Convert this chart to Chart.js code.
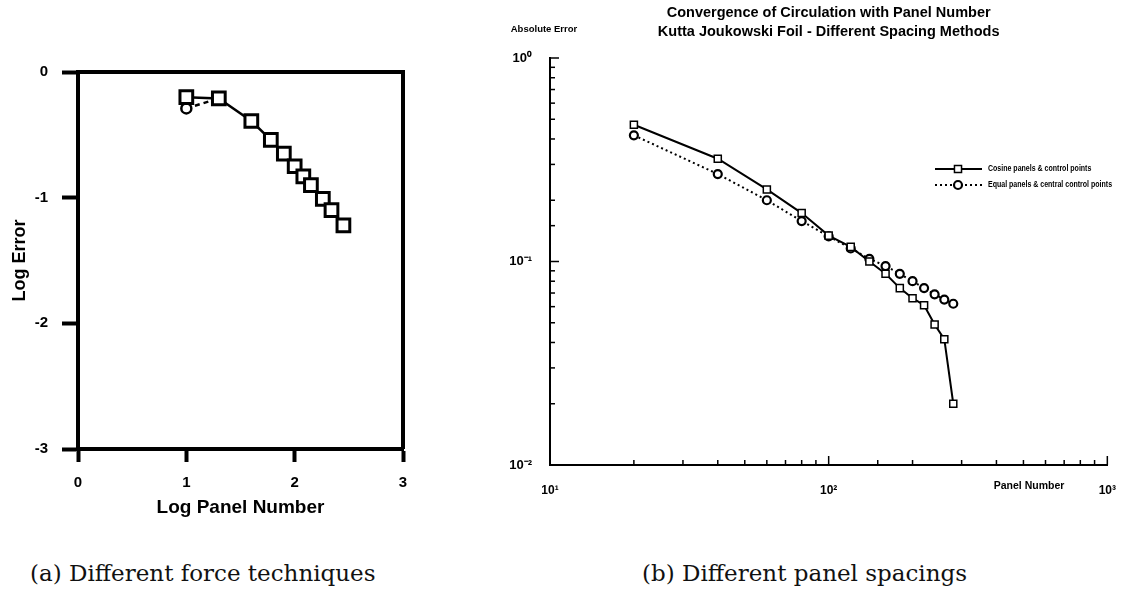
<!DOCTYPE html>
<html>
<head>
<meta charset="utf-8">
<script src="https://cdn.jsdelivr.net/npm/chart.js@4.4.1/dist/chart.umd.min.js"></script>
<style>
    body { margin: 0; width: 1126px; height: 598px; background: #fff; position: relative; overflow: hidden; }
    canvas { position: absolute; top: 0; }
    #forceChart { left: 0; }
    #spacingChart { left: 430px; }
    .caption { position: absolute; top: 560px; font-family: "DejaVu Serif", serif; font-size: 23px; color: #111; white-space: nowrap; }
</style>
</head>
<body>
<canvas id="forceChart" width="430" height="530"></canvas>
<canvas id="spacingChart" width="696" height="530"></canvas>
<div class="caption" style="left:30px">(a) Different force techniques</div>
<div class="caption" style="left:642px">(b) Different panel spacings</div>
<script>
// (a) log error vs log panel number
const logPanels = [1.0, 1.30, 1.60, 1.78, 1.90, 2.0, 2.08, 2.15, 2.26, 2.34, 2.45];
const logErrSquare = [-0.20, -0.21, -0.39, -0.54, -0.65, -0.75, -0.83, -0.90, -1.01, -1.10, -1.22];
const logPanelsCircle = [1.0, 1.30];
const logErrCircle = [-0.29, -0.21];

// (b) absolute error vs panel number
const panelNumber = [20, 40, 60, 80, 100, 120, 140, 160, 180, 200, 220, 240, 260, 280];
const cosineError = [0.47, 0.32, 0.226, 0.173, 0.134, 0.118, 0.100, 0.087, 0.074, 0.066, 0.061, 0.049, 0.0415, 0.020];
const equalError = [0.417, 0.269, 0.20, 0.158, 0.133, 0.116, 0.103, 0.095, 0.087, 0.080, 0.074, 0.069, 0.065, 0.062];
const seriesNames = ['Cosine panels & control points', 'Equal panels & central control points'];
const xDecades = [10, 100, 1000];
const xDecadeLabels = ['10¹', '10²', '10³'];
const yDecades = [0.01, 0.1, 1];
const yDecadeLabels = ['10⁻²', '10⁻¹', '10⁰'];

const boldFont = size => ({ family: '"Liberation Sans", Arial, sans-serif', weight: 'bold', size });

// left plot: thick frame on top and right
const frameBox = {
    id: 'frameBox',
    afterDraw(chart) {
        const { ctx, chartArea: a } = chart;
        ctx.save();
        ctx.strokeStyle = '#000';
        ctx.lineWidth = 4;
        ctx.beginPath();
        ctx.moveTo(a.left, a.top);
        ctx.lineTo(a.right, a.top);
        ctx.lineTo(a.right, a.bottom);
        ctx.stroke();
        ctx.restore();
    }
};

new Chart(document.getElementById('forceChart'), {
    type: 'line',
    data: {
        datasets: [{
            data: logPanels.map((x, i) => ({ x, y: logErrSquare[i] })),
            borderColor: '#000',
            borderWidth: 2.5,
            pointStyle: 'rect',
            pointRadius: 9,
            pointBorderWidth: 3,
            pointBackgroundColor: '#fff',
            pointBorderColor: '#000'
        }, {
            data: logPanelsCircle.map((x, i) => ({ x, y: logErrCircle[i] })),
            borderColor: '#000',
            borderWidth: 2.5,
            borderDash: [5, 4],
            pointStyle: 'circle',
            pointRadius: [5, 0],
            pointBorderWidth: 2.5,
            pointBackgroundColor: '#fff',
            pointBorderColor: '#000'
        }]
    },
    options: {
        responsive: false,
        animation: false,
        layout: { padding: { top: 72, right: 27, bottom: 0, left: 0 } },
        plugins: { legend: { display: false }, tooltip: { enabled: false } },
        scales: {
            x: {
                type: 'linear',
                min: 0,
                max: 3,
                afterFit: s => { s.height = 81; },
                ticks: { stepSize: 1, color: '#000', font: boldFont(15), padding: 12 },
                grid: { drawOnChartArea: false, tickLength: 13, tickWidth: 4, tickColor: '#000' },
                border: { color: '#000', width: 4 },
                title: { display: true, text: 'Log Panel Number', color: '#000', font: boldFont(19), padding: { top: 0, bottom: 11 } }
            },
            y: {
                type: 'linear',
                min: -3,
                max: 0,
                afterFit: s => { s.width = 78; },
                ticks: { stepSize: 1, color: '#000', font: boldFont(15), padding: 14 },
                grid: { drawOnChartArea: false, tickLength: 16, tickWidth: 4, tickColor: '#000' },
                border: { color: '#000', width: 4 },
                title: { display: true, text: 'Log Error', color: '#000', font: boldFont(18), padding: { top: 9, bottom: 0 } }
            }
        }
    },
    plugins: [frameBox]
});

// right plot: inward log ticks, free-floating axis labels and legend
const logDecor = {
    id: 'logDecor',
    afterDraw(chart) {
        const { ctx, chartArea: a, scales: { x, y } } = chart;
        ctx.save();
        ctx.strokeStyle = '#000';
        ctx.lineWidth = 1.5;
        x.ticks.forEach(t => {
            const px = x.getPixelForValue(t.value);
            const len = xDecades.includes(t.value) ? 9 : 5;
            ctx.beginPath();
            ctx.moveTo(px, a.bottom);
            ctx.lineTo(px, a.bottom - len);
            ctx.stroke();
        });
        y.ticks.forEach(t => {
            const py = y.getPixelForValue(t.value);
            const len = yDecades.includes(t.value) ? 9 : 5;
            ctx.beginPath();
            ctx.moveTo(a.left, py);
            ctx.lineTo(a.left + len, py);
            ctx.stroke();
        });

        ctx.fillStyle = '#000';
        ctx.textBaseline = 'middle';
        ctx.textAlign = 'center';
        ctx.font = 'bold 9.5px "Liberation Sans", Arial, sans-serif';
        ctx.fillText('Absolute Error', a.left - 6, 29);
        ctx.font = 'bold 10.5px "Liberation Sans", Arial, sans-serif';
        ctx.fillText('Panel Number', 599, a.bottom + 21);

        // legend
        const ds = chart.data.datasets;
        const rows = [169, 185];
        ctx.font = 'bold 9px "Liberation Sans", Arial, sans-serif';
        rows.forEach((ry, i) => {
            const d = ds[i];
            ctx.lineWidth = d.borderWidth;
            ctx.setLineDash(d.borderDash || []);
            ctx.beginPath();
            ctx.moveTo(505, ry);
            ctx.lineTo(552, ry);
            ctx.stroke();
            ctx.setLineDash([]);
            ctx.lineWidth = d.pointBorderWidth;
            ctx.fillStyle = '#fff';
            Chart.helpers.drawPoint(ctx, { pointStyle: d.pointStyle, radius: d.pointRadius, rotation: 0, borderWidth: d.pointBorderWidth }, 528, ry);
            ctx.fillStyle = '#000';
            ctx.textAlign = 'left';
            ctx.save();
            ctx.translate(558, ry);
            ctx.scale(0.78, 1);
            ctx.fillText(seriesNames[i], 0, 0);
            ctx.restore();
        });
        ctx.restore();
    }
};

new Chart(document.getElementById('spacingChart'), {
    type: 'line',
    data: {
        datasets: [{
            label: seriesNames[0],
            data: panelNumber.map((x, i) => ({ x, y: cosineError[i] })),
            borderColor: '#000',
            borderWidth: 2,
            pointStyle: 'rect',
            pointRadius: 5,
            pointBorderWidth: 1.5,
            pointBackgroundColor: '#fff',
            pointBorderColor: '#000'
        }, {
            label: seriesNames[1],
            data: panelNumber.map((x, i) => ({ x, y: equalError[i] })),
            borderColor: '#000',
            borderWidth: 2,
            borderDash: [2, 3],
            pointStyle: 'circle',
            pointRadius: 4,
            pointBorderWidth: 2.2,
            pointBackgroundColor: '#fff',
            pointBorderColor: '#000'
        }]
    },
    options: {
        responsive: false,
        animation: false,
        layout: { padding: { top: 0, right: 14, bottom: 0, left: 0 } },
        plugins: {
            legend: { display: false },
            tooltip: { enabled: false },
            title: {
                display: true,
                fullSize: false,
                text: ['Convergence of Circulation with Panel Number', 'Kutta Joukowski Foil - Different Spacing Methods'],
                color: '#000',
                font: { family: '"Liberation Sans", Arial, sans-serif', weight: 'bold', size: 14.5, lineHeight: 1.3 },
                padding: { top: 3.6, bottom: 16.7 }
            }
        },
        scales: {
            x: {
                type: 'logarithmic',
                min: 10,
                max: 1000,
                afterFit: s => { s.height = 65; },
                ticks: {
                    autoSkip: false,
                    maxRotation: 0,
                    color: '#000',
                    font: boldFont(12),
                    padding: 10,
                    callback: v => { const k = xDecades.indexOf(v); return k >= 0 ? xDecadeLabels[k] : ''; }
                },
                grid: { display: false },
                border: { color: '#000', width: 2 }
            },
            y: {
                type: 'logarithmic',
                min: 0.01,
                max: 1,
                afterFit: s => { s.width = 120; },
                ticks: {
                    autoSkip: false,
                    color: '#000',
                    font: boldFont(13),
                    padding: 10,
                    callback: v => { const k = yDecades.findIndex(d => Math.abs(d - v) < 1e-9); return k >= 0 ? yDecadeLabels[k] : ''; }
                },
                grid: { display: false },
                border: { color: '#000', width: 2 }
            }
        }
    },
    plugins: [logDecor]
});
</script>
</body>
</html>
